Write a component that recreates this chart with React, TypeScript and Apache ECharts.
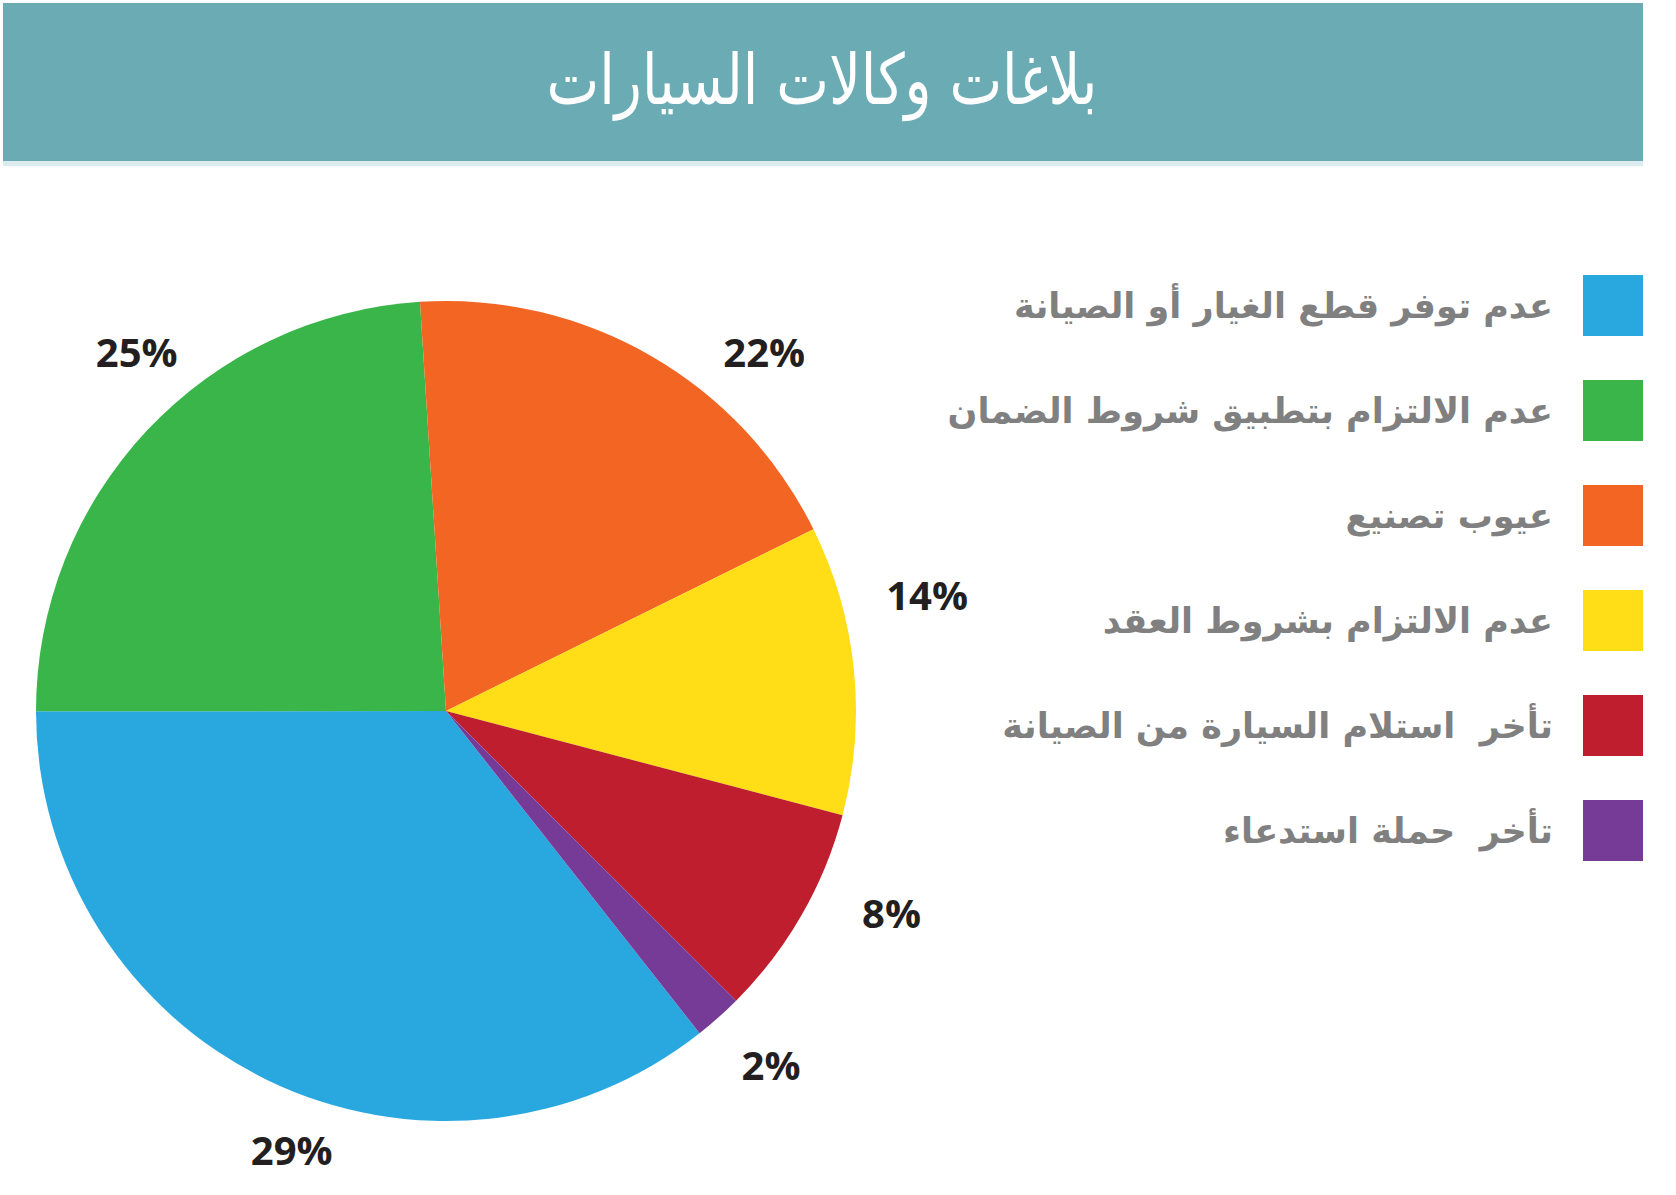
import React, { useEffect, useRef } from "react";
import * as echarts from "echarts";

const titleText = "بلاغات وكالات السيارات";
const categories = [
  "عدم توفر قطع الغيار أو الصيانة",
  "عدم الالتزام بتطبيق شروط الضمان",
  "عيوب تصنيع",
  "عدم الالتزام بشروط العقد",
  "تأخر  استلام السيارة من الصيانة",
  "تأخر  حملة استدعاء",
];
// slice sizes as drawn in the reference (share of the full circle)
const values = [35.6, 24.0, 18.7, 11.4, 8.4, 1.9];
// percentage labels as printed in the reference
const pctLabels = ["29%", "25%", "22%", "14%", "8%", "2%"];

const colors = ["#29a8e0", "#39b54a", "#f26522", "#ffde17", "#be1e2d", "#763b96"];

const W = 1676;
const H = 1195;
const CX = 446;
const CY = 711;
const R = 410;
const START = 308.2;
const labelRadius = [465, 474, 480, 495, 489, 480];
const labelShift = [6.5, -6.1, -11.5, 7.8, 5.5, 1];

export default function App() {
  const ref = useRef<HTMLDivElement>(null);
  useEffect(() => {
    const chart = echarts.init(ref.current!, null, { renderer: "svg" });
    const total = values.reduce((a, b) => a + b, 0);
    let acc = 0;
    const labelEls = values.map((v, i) => {
      const mid = START - ((acc + v / 2) / total) * 360;
      acc += v;
      const a = ((mid + labelShift[i]) * Math.PI) / 180;
      return {
        type: "text",
        x: CX + labelRadius[i] * Math.cos(a),
        y: CY - labelRadius[i] * Math.sin(a),
        silent: true,
        style: {
          text: pctLabels[i],
          fontFamily: "Open Sans",
          fontWeight: 700,
          fontSize: 40,
          fill: "#231f20",
          textAlign: "center",
          textVerticalAlign: "middle",
        },
      };
    });
    chart.setOption({
      animation: false,
      backgroundColor: "#ffffff",
      color: colors,
      legend: {
        orient: "vertical",
        right: 33,
        top: 275,
        padding: 0,
        itemWidth: 60,
        itemHeight: 61,
        itemGap: 44,
        align: "right",
        icon: "rect",
        selectedMode: false,
        data: categories,
        textStyle: {
          fontSize: 35,
          fontWeight: "bold",
          color: "#808080",
          fontFamily: "DejaVu Sans",
          padding: [0, 25, 0, 0],
        },
      },
      graphic: [
        { type: "rect", shape: { x: 3, y: 3, width: 1640, height: 158 }, style: { fill: "#6aabb4" }, silent: true },
        { type: "rect", shape: { x: 3, y: 161, width: 1640, height: 5 }, style: { fill: "#dcebee" }, silent: true },
        {
          type: "text",
          x: 822,
          y: 80,
          scaleX: 0.8,
          silent: true,
          style: {
            text: titleText,
            fontFamily: "DejaVu Sans",
            fontSize: 70,
            fill: "#ffffff",
            textAlign: "center",
            textVerticalAlign: "middle",
          },
        },
        ...labelEls,
      ],
      series: [
        {
          type: "pie",
          center: [CX, CY],
          radius: R,
          startAngle: START,
          clockwise: true,
          silent: true,
          label: { show: false },
          labelLine: { show: false },
          emphasis: { disabled: true },
          itemStyle: { borderWidth: 0 },
          data: categories.map((name, i) => ({ name, value: values[i], itemStyle: { color: colors[i] } })),
        },
      ],
    });
    return () => chart.dispose();
  }, []);
  return (
    <div
      ref={ref}
      style={{ position: "absolute", left: 0, top: 0, width: W + "px", height: H + "px" }}
    />
  );
}
